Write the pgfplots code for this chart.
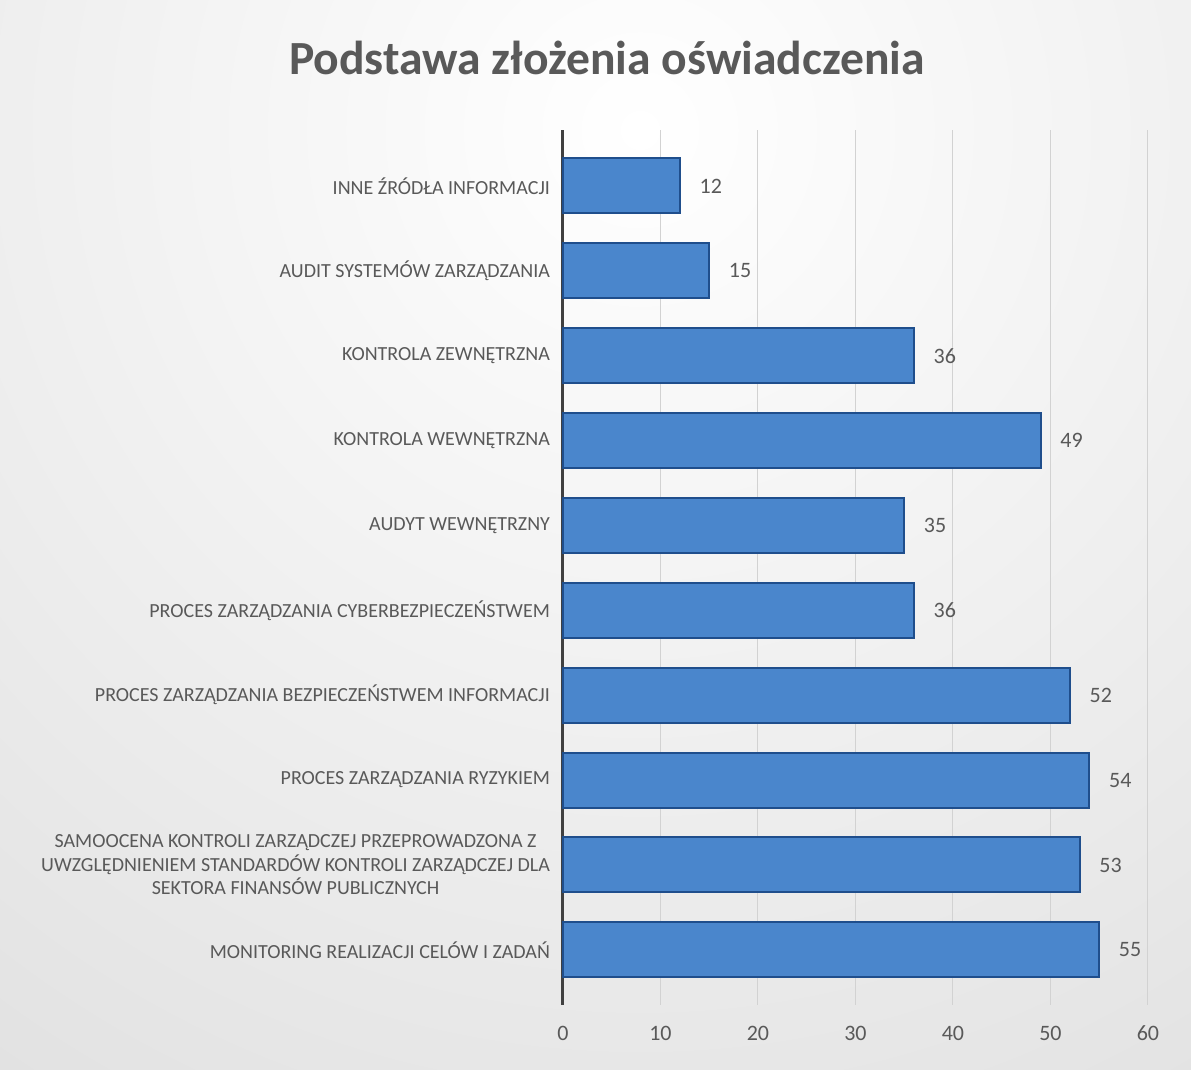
\documentclass[border=0pt]{standalone}
\usepackage{pgfplots}
\pgfplotsset{compat=1.18}
\usepackage{fontspec}
\setmainfont{Carlito}
\definecolor{txt}{HTML}{595959}
\definecolor{barfill}{HTML}{4A86CC}
\definecolor{baredge}{HTML}{1F4E8C}
\begin{document}
\begin{tikzpicture}
\begin{scope}
\clip (0,0) rectangle (595.5pt,535pt);
\fill[gray!28] (0,0) rectangle (595.5pt,535pt);
\shade[inner color=white, outer color=gray!28] (320pt,470pt) circle (700pt);
\end{scope}
\node[font=\fontsize{23.8}{28}\selectfont\bfseries, text=txt] at (303.5pt,506pt) {Podstawa złożenia oświadczenia};
\begin{axis}[
  at={(281.5pt,32.5pt)}, anchor=south west,
  scale only axis, width=292.5pt, height=437.5pt,
  xbar, bar width=27.5pt,
  xmin=0, xmax=60, ymin=-0.65, ymax=9.66,
  xtick={0,10,...,60},
  ytick={0,...,9},
  yticklabels={MONITORING REALIZACJI CELÓW I ZADAŃ,
    {SAMOOCENA KONTROLI ZARZĄDCZEJ PRZEPROWADZONA Z\\UWZGLĘDNIENIEM STANDARDÓW KONTROLI ZARZĄDCZEJ DLA\\SEKTORA FINANSÓW PUBLICZNYCH},
    PROCES ZARZĄDZANIA RYZYKIEM,
    PROCES ZARZĄDZANIA BEZPIECZEŃSTWEM INFORMACJI,
    PROCES ZARZĄDZANIA CYBERBEZPIECZEŃSTWEM,
    AUDYT WEWNĘTRZNY,
    KONTROLA WEWNĘTRZNA,
    KONTROLA ZEWNĘTRZNA,
    AUDIT SYSTEMÓW ZARZĄDZANIA,
    INNE ŹRÓDŁA INFORMACJI},
  yticklabel style={align=center, font=\fontsize{10}{11.75}\selectfont, text=txt, xshift=-3pt},
  xticklabel style={font=\fontsize{11}{13}\selectfont, text=txt, yshift=-7pt},
  /pgf/number format/assume math mode=true,
  axis lines*=left,
  x axis line style={draw=none},
  y axis line style={line width=1.5pt, black!75},
  major tick length=0pt,
  xmajorgrids, grid style={gray!35, line width=0.5pt},
  nodes near coords,
  nodes near coords style={font=\fontsize{11}{13}\selectfont, text=txt, anchor=west, xshift=6pt},
  clip=false,
]
\addplot[fill=barfill, draw=baredge, line width=1pt] coordinates {
  (55,0) (53,1) (54,2) (52,3) (36,4) (35,5) (49,6) (36,7) (15,8) (12,9)};
\end{axis}
\end{tikzpicture}
\end{document}
